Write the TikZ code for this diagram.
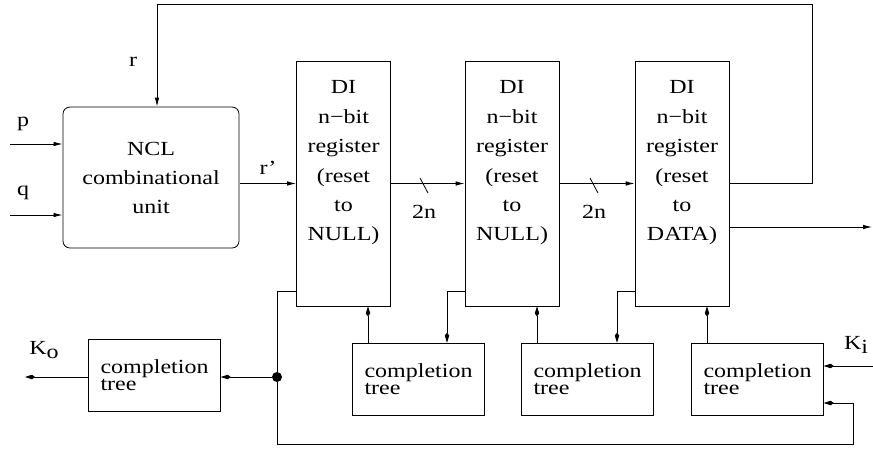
\documentclass[tikz,border=0pt]{standalone}
\usepackage{fontspec}
\setmainfont{Liberation Serif}
\usetikzlibrary{arrows.meta}

\tikzset{
  ln/.style={line width=0.8pt},
  tri/.style={ln,-{Latex[length=9pt,width=4.5pt]}},
  kit/.style={ln,-{Kite[length=10pt,width=4.5pt,inset=3pt]}},
  wide/.style={xscale=1.2,transform shape},
  ncl/.style={draw,ln,wide,rounded corners=7pt,minimum width=146.7pt,minimum height=141pt,align=center,
    font=\fontsize{20}{29}\selectfont},
  reg/.style={draw,ln,minimum width=94pt,minimum height=245pt},
  regtext/.style={anchor=north,inner sep=0pt,wide,align=center,font=\fontsize{20}{29.4}\selectfont},
  ctree/.style={draw,ln,wide,minimum width=109.5pt,minimum height=72pt,align=left,
    font=\fontsize{20}{17.5}\selectfont},
  lbl/.style={wide,font=\fontsize{20}{24}\selectfont,inner sep=0pt}
}

\begin{document}
\begin{tikzpicture}[x=1pt,y=-1pt]
 \useasboundingbox (0,0) rectangle (873,451);
 % blocks
 \node[ncl] (ncl) at (151,177.5) {NCL\\combinational\\unit};
 \node[reg] (reg1) at (343.5,183.5) {};
 \node[reg] (reg2) at (512,183.5) {};
 \node[reg] (reg3) at (682,183.5) {};
 \node[regtext] (reg1txt) at ([yshift=-20pt]reg1.north) {DI\\n−bit\\register\\(reset\\to\\NULL)};
 \node[regtext] (reg2txt) at ([yshift=-20pt]reg2.north) {DI\\n−bit\\register\\(reset\\to\\NULL)};
 \node[regtext] (reg3txt) at ([yshift=-20pt]reg3.north) {DI\\n−bit\\register\\(reset\\to\\DATA)};
 \node[ctree] (ct1) at (154.5,375) {completion\\tree};
 \node[ctree] (ct2) at (418.5,379) {completion\\tree};
 \node[ctree] (ct3) at (587.5,379) {completion\\tree};
 \node[ctree] (ct4) at (757.5,379) {completion\\tree};
 \node[circle,fill,inner sep=0pt,minimum size=10pt] (dot) at (277,377) {};
 % free ends
 \coordinate (pin) at (10,144);
 \coordinate (qin) at (10,215);
 \coordinate (fbr) at (812,183.5);
 \coordinate (fbt) at (812,4);
 \coordinate (fbl) at (157,4);
 \coordinate (out) at (872,227);
 \coordinate (kout) at (25,377);
 \coordinate (kin) at (873,366);
 \coordinate (r1w) at (296,291);
 \coordinate (r2w) at (465,291);
 \coordinate (r3w) at (635,291);
 \coordinate (lpb) at (277,444);
 \coordinate (lpr) at (853,444);
 \coordinate (lpt) at (853,403);
 % labels
 \node[lbl] (plbl) at (23,124) {p};
 \node[lbl] (qlbl) at (23,193) {q};
 \node[lbl] (rlbl) at (133,62) {r};
 \node[lbl] (rplbl) at (268,168) {r’};
 \node[lbl] (bus1) at (424,212) {2n};
 \node[lbl] (bus2) at (594,212) {2n};
 \node[lbl] (kolbl) at (44,350) {K\raisebox{-0.45ex}{o}};
 \node[lbl] (kilbl) at (856,345) {K\raisebox{-0.45ex}{i}};
 % inputs
 \draw[tri] (pin) -- (pin -| ncl.west);
 \draw[tri] (qin) -- (qin -| ncl.west);
 \draw[tri] (reg3.east) -- (fbr) -- (fbt) -- (fbl) -- (fbl |- ncl.north);
 \draw[tri] (ncl.east |- reg1.west) -- (reg1.west);
 \draw[tri] (reg1.east) -- (reg2.west);
 \draw[tri] (reg2.east) -- (reg3.west);
 \draw[ln] (420,178) -- (428,193); %bus slash
 \draw[ln] (590,178) -- (598,193); %bus slash
 \draw[tri] ([yshift=-43.5pt]reg3.east) -- (out);
 % completion
 \draw[kit] (ct1.west |- dot) -- (kout);
 \draw[kit] (dot) -- (ct1.east |- dot);
 \draw[ln] (r1w) -| (dot) -- (lpb) -- (lpr) -- (lpt);
 \draw[kit] (lpt) -- (lpt -| ct4.east);
 \draw[kit] (kin) -- (kin -| ct4.east);
 \draw[kit] (368,0 |- ct2.north) -- (368,0 |- reg1.south);
 \draw[kit] (537,0 |- ct3.north) -- (537,0 |- reg2.south);
 \draw[kit] (707,0 |- ct4.north) -- (707,0 |- reg3.south);
 \draw[kit] (r2w) -| (447,0 |- ct2.north);
 \draw[kit] (r3w) -| (617,0 |- ct3.north);
\end{tikzpicture}
\end{document}
